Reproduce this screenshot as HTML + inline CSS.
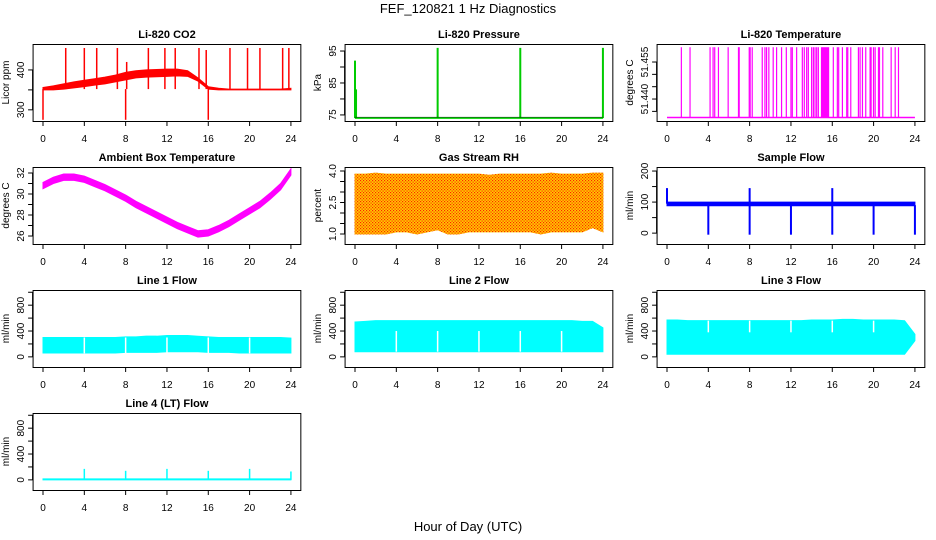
<!DOCTYPE html>
<html><head><meta charset="utf-8"><style>
html,body{margin:0;padding:0;background:#fff;}
svg{display:block;font-family:"Liberation Sans",sans-serif;}
</style></head><body>
<svg id="c" width="936" height="540" xmlns="http://www.w3.org/2000/svg">
<text x="468" y="13" text-anchor="middle" font-size="13">FEF_120821  1 Hz Diagnostics</text>
<text x="468" y="531" text-anchor="middle" font-size="13">Hour of Day (UTC)</text>
</svg>
<script>
const hours = [0,1,2,3,4,5,6,7,8,9,10,11,12,13,14,15,16,17,18,19,20,21,22,23,24];
const xTicks = [0,4,8,12,16,20,24];
// CO2
const co2Low  = [350,350,352,355,358,362,365,370,375,380,382,383,384,385,384,372,352,350,350,350,350,350,350,350,350];
const co2High = [356,360,365,370,374,378,382,387,394,398,400,401,402,402,398,380,358,354,352,352,352,352,352,352,354];
const co2SpikeH = [0,2.2,4,5.2,7.2,8,8.1,10.2,11.8,12.8,15.1,15.8,16,18.1,19.8,21,23.2,23.8];
const co2SpikeV = [275,455,455,455,455,275,420,455,455,455,455,450,275,455,455,455,455,455];
// Pressure
const presBase = 74;
const presSpikeH = [0,0.1,8,16,24];
const presSpikeV = [92,83,96,96,96];
// Li-820 temperature
const tempBase = 51.4325;
const tempSpikeH = [1.39,2.23,4.17,4.46,4.62,4.98,5.92,6.92,6.99,7.96,8.05,8.25,9.22,9.48,9.64,9.86,10.28,10.61,11.09,11.55,12.0,12.13,12.55,13.1,13.29,13.52,13.68,14.0,14.17,14.33,14.49,14.65,16.1,16.49,16.62,16.98,17.4,17.5,17.79,18.53,18.69,18.92,19.24,19.66,19.76,19.99,20.15,20.47,20.57,20.89,21.7,22.09,22.41];
const tempSpikeV = 51.461;
const tempBlock = [14.9,15.7];
// Ambient
const ambMid = [30.8,31.3,31.6,31.6,31.4,31.0,30.6,30.1,29.6,29.0,28.5,28.0,27.5,27.0,26.6,26.2,26.3,26.7,27.2,27.8,28.4,29.0,29.8,30.7,32.1];
const ambHalf = 0.3;
// RH
const rhTop = [3.85,3.85,3.9,3.85,3.85,3.85,3.85,3.85,3.85,3.85,3.85,3.85,3.85,3.8,3.85,3.85,3.85,3.85,3.85,3.9,3.85,3.85,3.85,3.9,3.9];
const rhBot = [1.0,1.0,1.0,1.0,1.1,1.1,1.0,1.1,1.2,1.0,1.0,1.1,1.1,1.1,1.1,1.1,1.1,1.1,1.0,1.1,1.1,1.1,1.1,1.3,1.1];
// Sample flow
const sfLow = 88, sfHigh = 100;
const sfUpH = [0,8,16];
const sfUpV = [145,145,145];
const sfDownH = [4,8,12,16,20,24];
const sfDownV = [-5,-5,-5,-5,-5,-5];
// Line flows
const l1Low = [60,60,60,60,60,60,60,60,70,70,70,70,80,80,80,80,70,70,70,60,60,60,60,60,60];
const l1High = [300,300,300,300,300,300,300,300,310,310,320,320,330,330,330,320,310,300,300,300,300,300,300,300,290];
const l2Low = [80,80,80,80,80,80,80,80,80,80,80,80,80,80,80,80,80,80,80,80,80,80,80,80,80];
const l2High = [540,550,560,560,560,560,560,560,560,560,560,560,560,560,560,560,560,560,560,560,560,560,550,550,450];
const l3Low = [40,40,40,40,40,40,40,40,40,40,40,40,40,40,40,40,40,40,40,40,40,40,40,40,250];
const l3High = [570,570,560,560,560,560,560,560,560,560,560,560,560,560,570,570,570,580,580,570,570,570,570,560,350];
const flowGaps = [4,8,12,16,20];
const l4Base = 15;
const l4SpikeH = [4,8,12,16,20,24];
const l4SpikeV = [170,140,170,140,170,130];

const svg = document.getElementById('c');
const NS = 'http://www.w3.org/2000/svg';
function el(tag, attrs, parent){ const e=document.createElementNS(NS,tag); for(const k in attrs) e.setAttribute(k,attrs[k]); (parent||svg).appendChild(e); return e; }

const colX0 = [43,355,667], PXH = 10.33, rowTop = [44,167,290,413], BH = 77;

function panel(col,row,title,ylab,d0,d1,ticks,labels,name){
  const g = el('g',{});
  
  
  const x0 = colX0[col], top = rowTop[row], bot = top+BH;
  const xs = h => x0 + h*PXH;
  const ys = v => bot - (v-d0)/(d1-d0)*BH;
  const left = x0 - 0.96*PXH, right = x0 + 24.96*PXH;
  const t = el('text',{x:(left+right)/2,y:top-6,'text-anchor':'middle','font-size':'11','font-weight':'bold'},g);
  t.textContent = title;
  
  
  const xa = el('g',{stroke:'#000','stroke-width':'1'},g);
  
  
  el('line',{x1:xs(0),x2:xs(24),y1:bot+0.5,y2:bot+0.5},xa);
  xTicks.forEach(h=>{
    el('line',{x1:xs(h),x2:xs(h),y1:bot,y2:bot+5},xa);
    const tl = el('text',{x:xs(h),y:bot+21,'text-anchor':'middle','font-size':'10',stroke:'none'},xa);
    tl.textContent = h;
    
    
  });
  const ya = el('g',{stroke:'#000','stroke-width':'1'},g);
  
  
  el('line',{x1:left-0.5,x2:left-0.5,y1:ys(ticks[0]),y2:ys(ticks[ticks.length-1])},ya);
  ticks.forEach((v,i)=>{
    el('line',{x1:left-5,x2:left,y1:ys(v),y2:ys(v)},ya);
    if(labels[i]!==''){
      const tl = el('text',{x:left-9,y:ys(v),'text-anchor':'middle','font-size':'10',stroke:'none',transform:`rotate(-90 ${left-9} ${ys(v)})`},ya);
      tl.textContent = labels[i];
      
      
    }
  });
  const yl = el('text',{x:left-24,y:(top+bot)/2,'text-anchor':'middle','font-size':'10',transform:`rotate(-90 ${left-24} ${(top+bot)/2})`},g);
  yl.textContent = ylab;
  
  
  const plot = el('g',{},g);
  
  
  const box = el('rect',{x:left,y:top+0.5,width:right-left,height:BH,fill:'none',stroke:'#000','stroke-width':'1'},g);
  
  
  return {xs,ys,plot};
}
function band(p,low,high,fill){
  let pts = hours.map((h,i)=>`${p.xs(h)},${p.ys(high[i])}`).concat(hours.slice().reverse().map((h,j)=>`${p.xs(h)},${p.ys(low[hours.length-1-j])}`));
  const b = el('polygon',{points:pts.join(' '),fill:fill,stroke:fill,'stroke-width':'1'},p.plot);
  
  
}
function spikes(p,hs,vs,base,color,w){
  hs.forEach((h,i)=>{
    const v = Array.isArray(vs)?vs[i]:vs;
    const s = el('line',{x1:p.xs(h),x2:p.xs(h),y1:p.ys(base),y2:p.ys(v),stroke:color,'stroke-width':w||1.5},p.plot);
    
    
  });
}
function hline(p,v,color,w){
  const l = el('line',{x1:p.xs(0),x2:p.xs(24),y1:p.ys(v),y2:p.ys(v),stroke:color,'stroke-width':w},p.plot);
  
  
}

let p;
p = panel(0,0,'Li-820 CO2','Licor ppm',272,465,[300,350,400],['300','','400'],'co2');
band(p,co2Low,co2High,'#ff0000');
spikes(p,co2SpikeH,co2SpikeV,352,'#ff0000',1.5);

p = panel(1,0,'Li-820 Pressure','kPa',73.1,97.2,[75,80,85,90,95],['75','','85','','95'],'pressure');
hline(p,presBase,'#00dd00',1.5);
spikes(p,presSpikeH,presSpikeV,presBase,'#00cc00',2);
hline(p,presBase+0.3,'#000',0.5);

p = panel(2,0,'Li-820 Temperature','degrees C',51.4311,51.4623,[51.435,51.440,51.445,51.450,51.455],['','51.440','','','51.455'],'temperature');
hline(p,tempBase,'#ff00ff',1.5);
spikes(p,tempSpikeH,tempSpikeV,tempBase,'#ff00ff',1.2);
(function(){const r=el('rect',{x:p.xs(tempBlock[0]),y:p.ys(tempSpikeV),width:p.xs(tempBlock[1])-p.xs(tempBlock[0]),height:p.ys(tempBase)-p.ys(tempSpikeV),fill:'#ff00ff'},p.plot);

})();

p = panel(0,1,'Ambient Box Temperature','degrees C',25.24,32.57,[26,27,28,29,30,31,32],['26','','28','','30','','32'],'ambient-temp');
band(p,ambMid.map(v=>v-ambHalf),ambMid.map(v=>v+ambHalf),'#ff00ff');

p = panel(1,1,'Gas Stream RH','percent',0.524,4.19,[1.0,1.5,2.0,2.5,3.0,3.5,4.0],['1.0','','','2.5','','','4.0'],'gas-rh');
(function(){
  const d=el('defs',{},svg);
  const pat=el('pattern',{id:'rh',width:'3',height:'3',patternUnits:'userSpaceOnUse'},d);
  el('rect',{width:'3',height:'3',fill:'#ffcc00'},pat);
  el('rect',{x:'0',y:'0',width:'1.2',height:'1.2',fill:'#ff2200'},pat);
  el('rect',{x:'1.5',y:'1.5',width:'1.2',height:'1.2',fill:'#ff2200'},pat);
})();
band(p,rhBot,rhTop,'url(#rh)');

p = panel(2,1,'Sample Flow','ml/min',-35,213,[0,50,100,150,200],['0','','100','','200'],'sample-flow');
band(p,hours.map(()=>sfLow),hours.map(()=>sfHigh),'#0000ff');
spikes(p,sfUpH,sfUpV,95,'#0000ff',2);
spikes(p,sfDownH,sfDownV,90,'#0000ff',2);

const flowTicks=[0,200,400,600,800,1000], flowLabels=['0','','400','','800',''];
p = panel(0,2,'Line 1 Flow','ml/min',-157,1035,flowTicks,flowLabels,'line1-flow');
band(p,l1Low,l1High,'#00ffff');
spikes(p,flowGaps,l1High,l1Low[0]-5,'#ffffff',1.5);
p = panel(1,2,'Line 2 Flow','ml/min',-157,1035,flowTicks,flowLabels,'line2-flow');
band(p,l2Low,l2High,'#00ffff');
spikes(p,flowGaps,400,l2Low[0],'#ffffff',1.5);
p = panel(2,2,'Line 3 Flow','ml/min',-157,1035,flowTicks,flowLabels,'line3-flow');
band(p,l3Low,l3High,'#00ffff');
spikes(p,flowGaps,560,380,'#ffffff',1.5);
p = panel(0,3,'Line 4 (LT) Flow','ml/min',-157,1035,flowTicks,flowLabels,'line4-flow');
band(p,hours.map(()=>0),hours.map(()=>l4Base),'#00ffff');
spikes(p,l4SpikeH,l4SpikeV,0,'#00ffff',1.5);
</script>
</body></html>
